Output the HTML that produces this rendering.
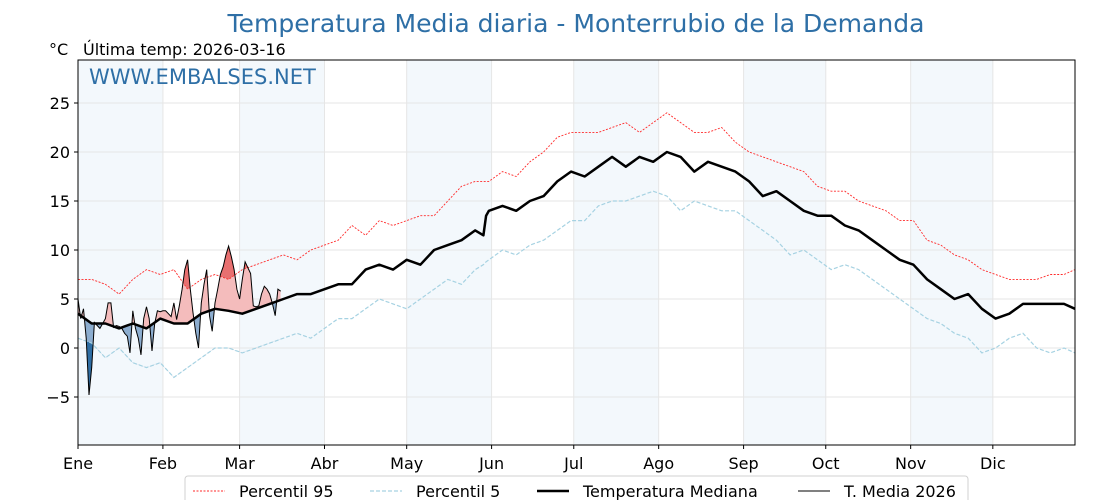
<!DOCTYPE html>
<html><head><meta charset="utf-8"><style>
body{margin:0;background:#fff;width:1120px;height:500px;overflow:hidden;font-family:"DejaVu Sans","Liberation Sans",sans-serif}
</style></head><body>
<svg id="chart" width="1120" height="500" xmlns="http://www.w3.org/2000/svg" font-family="DejaVu Sans, Liberation Sans, sans-serif">
<text x="576" y="32" text-anchor="middle" font-size="25" fill="#2e6fa6" textLength="697" lengthAdjust="spacingAndGlyphs">Temperatura Media diaria - Monterrubio de la Demanda</text>
<text x="49" y="55" font-size="16" fill="#000">°C</text>
<text x="83" y="55" font-size="16" fill="#000">Última temp: 2026-03-16</text>
<g id="plot"></g>
</svg>
<script>
const months=["Ene","Feb","Mar","Abr","May","Jun","Jul","Ago","Sep","Oct","Nov","Dic"];
const monthStart=[0,31,59,90,120,151,181,212,243,273,304,334];
const yTicks=[-5,0,5,10,15,20,25];
const pDays=[0,5,10,15,20,25,30,35,40,45,50,55,60,65,70,75,80,85,90,95,100,105,110,115,120,125,130,135,140,145,148,149,150,155,160,165,170,175,180,185,190,195,200,205,210,215,220,225,230,235,240,245,250,255,260,265,270,275,280,285,290,295,300,305,310,315,320,325,330,335,340,345,350,355,360,364];
const median=[3.5,2.5,2.5,2,2.5,2,3,2.5,2.5,3.5,4,3.8,3.5,4,4.5,5,5.5,5.5,6,6.5,6.5,8,8.5,8,9,8.5,10,10.5,11,12,11.5,13.5,14,14.5,14,15,15.5,17,18,17.5,18.5,19.5,18.5,19.5,19,20,19.5,18,19,18.5,18,17,15.5,16,15,14,13.5,13.5,12.5,12,11,10,9,8.5,7,6,5,5.5,4,3,3.5,4.5,4.5,4.5,4.5,4];
const p95=[7,7,6.5,5.5,7,8,7.5,8,6,7,7.5,7,8,8.5,9,9.5,9,10,10.5,11,12.5,11.5,13,12.5,13,13.5,13.5,15,16.5,17,17,17,17,18,17.5,19,20,21.5,22,22,22,22.5,23,22,23,24,23,22,22,22.5,21,20,19.5,19,18.5,18,16.5,16,16,15,14.5,14,13,13,11,10.5,9.5,9,8,7.5,7,7,7,7.5,7.5,8];
const p5=[1,0.5,-1,0,-1.5,-2,-1.5,-3,-2,-1,0,0,-0.5,0,0.5,1,1.5,1,2,3,3,4,5,4.5,4,5,6,7,6.5,8,8.5,8.8,9,10,9.5,10.5,11,12,13,13,14.5,15,15,15.5,16,15.5,14,15,14.5,14,14,13,12,11,9.5,10,9,8,8.5,8,7,6,5,4,3,2.5,1.5,1,-0.5,0,1,1.5,0,-0.5,0,-0.5];
const t2026=[5,3,4,1,-4.8,-2,2.6,2.3,2,2.5,3,4.6,4.6,2.1,2.3,2.2,2,1.5,1.2,-0.5,3.8,2,1,-0.7,3,4.2,3,-0.3,2.5,3.8,3.7,3.8,3.8,3.5,3.2,4.6,2.9,4.3,6,8,9,6,3.6,1.5,0,4.6,6.5,8,3.3,1.7,4.6,6,7.5,8.3,9.5,10.4,9.3,8,6,5,7,8.8,8.2,7.6,4.3,4.2,4.3,5.5,6.3,6,5.5,4.5,3.3,6,5.8];

const X0=78,X1=1075,Y0=60,Y1=445;
const xs=d=>X0+d*(X1-X0)/364;
const ys=v=>348-v*9.8;
const NS="http://www.w3.org/2000/svg";
const plot=document.getElementById('plot');
function mk(tag,attrs,parent){const e=document.createElementNS(NS,tag);for(const k in attrs)e.setAttribute(k,attrs[k]);(parent||plot).appendChild(e);return e;}
const pts=(days,vals)=>days.map((d,i)=>xs(d).toFixed(1)+','+ys(vals[i]).toFixed(1));

for(let m=0;m<12;m+=2){const a=xs(monthStart[m]),b=xs(monthStart[m+1]);
 const r=mk('rect',{x:a,y:Y0,width:b-a,height:Y1-Y0,fill:'#f3f8fc'});
 
 }
yTicks.forEach(v=>{const l=mk('line',{x1:X0,x2:X1,y1:ys(v),y2:ys(v),stroke:'#e6e6e6','stroke-width':1});
 
 });
monthStart.forEach(d=>{const l=mk('line',{x1:xs(d),x2:xs(d),y1:Y0,y2:Y1,stroke:'#e6e6e6','stroke-width':1});
 
 });

const tDays=t2026.map((_,i)=>i);
const last=tDays.length-1;
function interp(arr,d){for(let i=0;i<pDays.length-1;i++){if(d>=pDays[i]&&d<=pDays[i+1]){const f=(d-pDays[i])/(pDays[i+1]-pDays[i]);return arr[i]+f*(arr[i+1]-arr[i]);}}return arr[0];}
const medSub=[];pDays.forEach((d,i)=>{if(d<=last)medSub.push([d,median[i]]);});
if(medSub[medSub.length-1][0]!==last)medSub.push([last,interp(median,last)]);
const defs=mk('defs',{});
function clip(id,line,top){const c=mk('clipPath',{id},defs);
 const poly=line.map(p=>xs(p[0]).toFixed(1)+','+ys(p[1]).toFixed(1));
 const yy=top?Y0-50:Y1+50;
 mk('polygon',{points:xs(line[0][0])+','+yy+' '+poly.join(' ')+' '+xs(line[line.length-1][0])+','+yy},c);}
const p95Line=tDays.map(d=>[d,interp(p95,d)]),p5Line=tDays.map(d=>[d,interp(p5,d)]);
clip('cAboveMed',medSub,true);clip('cBelowMed',medSub,false);
clip('cAbove95',p95Line,true);clip('cBelow5',p5Line,false);
const tPts=pts(tDays,t2026);
const back=l=>l.slice().reverse().map(p=>xs(p[0]).toFixed(1)+','+ys(p[1]).toFixed(1));
const areaPts=tPts.concat(back(medSub)).join(' ');
const fa=mk('polygon',{points:areaPts,fill:'#f4bcbc','clip-path':'url(#cAboveMed)'});


const fb=mk('polygon',{points:areaPts,fill:'#8cadcf','clip-path':'url(#cBelowMed)'});


const fc=mk('polygon',{points:tPts.concat(back(p95Line)).join(' '),fill:'#e87070','clip-path':'url(#cAbove95)'});


const fd=mk('polygon',{points:tPts.concat(back(p5Line)).join(' '),fill:'#2e6da3','clip-path':'url(#cBelow5)'});



const l95=mk('polyline',{points:pts(pDays,p95).join(' '),fill:'none',stroke:'#ff2a2a','stroke-width':0.9,'stroke-dasharray':'2,1.5'});


const l5=mk('polyline',{points:pts(pDays,p5).join(' '),fill:'none',stroke:'#a6d2e2','stroke-width':1.2,'stroke-dasharray':'4,2'});


const lm=mk('polyline',{points:pts(pDays,median).join(' '),fill:'none',stroke:'#000','stroke-width':2.5,'stroke-linejoin':'round'});


const lt=mk('polyline',{points:tPts.join(' '),fill:'none',stroke:'#000','stroke-width':1});



const fr=mk('rect',{x:X0,y:Y0,width:X1-X0,height:Y1-Y0,fill:'none',stroke:'#000','stroke-width':1});


const wm=mk('text',{x:89,y:84,'font-size':21,fill:'#2e6fa6'});wm.textContent='WWW.EMBALSES.NET';



yTicks.forEach(v=>{mk('line',{x1:X0-4,x2:X0,y1:ys(v),y2:ys(v),stroke:'#000'});
 const t=mk('text',{x:X0-8,y:ys(v)+6,'text-anchor':'end','font-size':16});t.textContent=v<0?'\u2212'+Math.abs(v):v;
 
 });
months.forEach((m,i)=>{const x=xs(monthStart[i]);mk('line',{x1:x,x2:x,y1:Y1,y2:Y1+4,stroke:'#000'});
 const t=mk('text',{x:x,y:Y1+24,'text-anchor':'middle','font-size':16});t.textContent=m;
 
 });

const lg=mk('g',{});


mk('rect',{x:185,y:476,width:783,height:34,rx:3,fill:'#fff',stroke:'#d0d0d0'},lg);
const items=[["Percentil 95",'#ff2a2a',0.9,'2,1.5',193],["Percentil 5",'#a6d2e2',1.2,'4,2',370],["Temperatura Mediana",'#000',2.5,'',537],["T. Media 2026",'#000',1,'',798]];
items.forEach(it=>{const g=mk('g',{},lg);
 
 
 mk('line',{x1:it[4],x2:it[4]+32,y1:491,y2:491,stroke:it[1],'stroke-width':it[2],'stroke-dasharray':it[3]},g);
 const t=mk('text',{x:it[4]+46,y:497,'font-size':16},g);t.textContent=it[0];});
</script>
</body></html>
